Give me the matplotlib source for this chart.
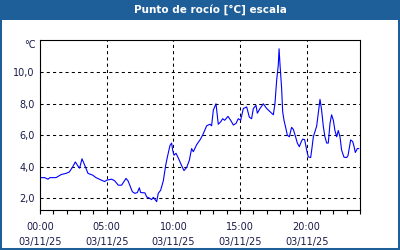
import matplotlib
matplotlib.use("Agg")
import matplotlib.pyplot as plt
from matplotlib.patches import Rectangle
from matplotlib.ticker import FixedLocator, MultipleLocator

# dew point readings, hours since 00:00 on 03/11/25
hours = [0.0, 0.35, 0.6, 0.75, 1.2, 1.6, 1.95, 2.2, 2.45, 2.65, 2.85, 2.97, 3.15, 3.35,
         3.6, 3.95, 4.2, 4.6, 4.85, 5.0, 5.37, 5.6, 5.87, 6.12, 6.3, 6.45, 6.6, 6.93,
         7.12, 7.3, 7.45, 7.55, 7.87, 8.0, 8.2, 8.37, 8.5, 8.75, 8.87, 9.05, 9.25, 9.42,
         9.55, 9.75, 9.87, 9.95, 10.05, 10.2, 10.4, 10.6, 10.8, 11.0, 11.2, 11.37, 11.5,
         11.75, 12.0, 12.1, 12.25, 12.5, 12.75, 12.87, 13.0, 13.2, 13.37, 13.55, 13.7,
         13.85, 14.1, 14.3, 14.5, 14.7, 14.87, 15.05, 15.25, 15.5, 15.7, 15.87, 16.0,
         16.2, 16.3, 16.5, 16.75, 17.0, 17.25, 17.5, 17.62, 17.75, 17.87, 17.93, 18.0,
         18.12, 18.2, 18.3, 18.45, 18.55, 18.7, 18.87, 19.0, 19.15, 19.3, 19.45, 19.6,
         19.7, 19.85, 20.0, 20.12, 20.3, 20.4, 20.5, 20.65, 20.75, 20.87, 21.0, 21.12,
         21.25, 21.37, 21.5, 21.62, 21.75, 21.87, 22.0, 22.12, 22.25, 22.37, 22.5, 22.62,
         22.8, 23.0, 23.1, 23.3, 23.45, 23.55, 23.65, 23.8, 23.9]
dew_point = [3.3, 3.3, 3.2, 3.3, 3.3, 3.5, 3.57, 3.66, 3.98, 4.3, 4.03, 3.9, 4.5, 4.1,
             3.57, 3.46, 3.3, 3.14, 3.05, 3.14, 3.2, 3.1, 2.82, 2.82, 3.05, 3.25, 3.1, 2.4,
             2.3, 2.35, 2.65, 2.35, 2.33, 2.07, 2.0, 1.9, 2.05, 1.77, 2.3, 2.5, 3.1, 4.05,
             4.6, 5.35, 5.5, 5.05, 4.73, 4.85, 4.5, 4.1, 3.75, 3.95, 4.4, 5.15, 4.95,
             5.4, 5.7, 5.85, 6.1, 6.6, 6.7, 6.6, 7.6, 8.0, 6.7, 6.85, 7.05,
             6.95, 7.2, 6.95, 6.65, 6.75, 7.05, 6.95, 7.7, 7.8, 7.15, 7.05, 7.7,
             7.9, 7.4, 7.7, 8.0, 7.7, 7.5, 7.3, 8.0, 9.5, 10.45, 11.5, 10.5,
             9.0, 7.5, 6.95, 6.4, 6.0, 5.9, 6.5, 6.37, 5.95, 5.5, 5.27, 5.6,
             5.75, 5.72, 5.05, 4.62, 4.58, 5.2, 5.9, 6.3, 6.58, 7.4, 8.28, 7.6,
             6.55, 5.9, 5.5, 5.5, 6.75, 7.3, 6.95, 6.3, 5.9, 6.3, 5.9, 5.05,
             4.6, 4.58, 4.7, 5.7, 5.6, 5.3, 4.9, 5.15, 5.15]

x_ticks = [0, 5, 10, 15, 20]
x_labels = ["00:00\n03/11/25", "05:00\n03/11/25", "10:00\n03/11/25",
            "15:00\n03/11/25", "20:00\n03/11/25"]
y_ticks = [2, 4, 6, 8, 10]
y_labels = ["2,0", "4,0", "6,0", "8,0", "10,0"]

frame_blue = "#1f5f99"
text_col = "#1a1a4a"

plt.rcParams["font.family"] = ["DejaVu Sans"]

fig = plt.figure(figsize=(4, 2.5), dpi=100, facecolor="white")
ax = fig.add_axes([0.1, 0.16, 0.8, 0.68])

ax.plot(hours, dew_point, color="#0000ff", linewidth=0.8)

ax.set_xlim(0, 24)
ax.set_ylim(1.24, 12.06)

ax.xaxis.set_major_locator(FixedLocator(x_ticks))
ax.xaxis.set_minor_locator(MultipleLocator(1))
ax.set_xticklabels(x_labels, color=text_col, fontsize=7, linespacing=1.5)
ax.set_yticks(y_ticks)
ax.set_yticklabels(y_labels, color=text_col, fontsize=7)

ax.tick_params(axis="x", which="both", direction="out", length=3, width=0.8, pad=6)
ax.tick_params(axis="y", length=0, pad=4)

ax.grid(True, which="major", color="black", linestyle=(0, (3, 3)), linewidth=0.75)
for s in ax.spines.values():
    s.set_linewidth(0.8)

fig.text(0.09, 0.82, "°C", ha="right", va="center", fontsize=7, color=text_col)

# title bar and frame
fig.patches.append(Rectangle((0, 0.92), 1, 0.08, transform=fig.transFigure,
                             facecolor=frame_blue, edgecolor="none", zorder=0))
fig.patches.append(Rectangle((0, 0), 1, 1, transform=fig.transFigure,
                             fill=False, edgecolor=frame_blue, linewidth=2.9))
fig.text(0.525, 0.96, "Punto de rocío [°C] escala", ha="center", va="center",
         color="white", fontsize=7.5, fontweight="bold")

fig.savefig("out.png", dpi=100, facecolor=fig.get_facecolor())
